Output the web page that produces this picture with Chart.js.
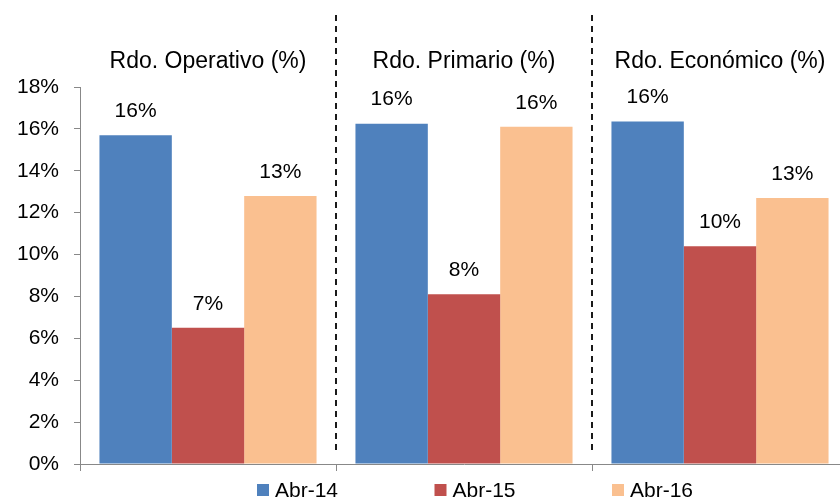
<!DOCTYPE html>
<html>
<head>
<meta charset="utf-8">
<script src="https://cdn.jsdelivr.net/npm/chart.js@4"></script>
<style>
html, body { margin: 0; padding: 0; overflow: hidden; background: #fff; }
#wrap { position: relative; width: 848px; height: 499px; }
</style>
</head>
<body>
<div id="wrap"><canvas id="resultados"></canvas></div>
<script>
const grupos = ['Rdo. Operativo (%)', 'Rdo. Primario (%)', 'Rdo. Económico (%)'];
const periodos = ['Abr-14', 'Abr-15', 'Abr-16'];
const abr14 = [15.7, 16.25, 16.35];
const abr15 = [6.5, 8.1, 10.4];
const abr16 = [12.8, 16.1, 12.7];
const colores = ['#4F81BD', '#C0504D', '#FAC090'];
const marcasY = [0, 2, 4, 6, 8, 10, 12, 14, 16, 18];

const fuente = '"Liberation Sans", Arial, sans-serif';
Chart.defaults.font.family = fuente;
Chart.defaults.color = '#000';

// lineas punteadas entre grupos
const separadores = {
    id: 'separadores',
    beforeDatasetsDraw(chart) {
        const x = chart.scales.x;
        const ctx = chart.ctx;
        ctx.save();
        ctx.strokeStyle = '#1a1a1a';
        ctx.lineWidth = 2;
        ctx.setLineDash([6, 5]);
        for (let i = 0; i < grupos.length - 1; i++) {
            const px = (x.getPixelForValue(i) + x.getPixelForValue(i + 1)) / 2;
            ctx.beginPath();
            ctx.moveTo(px, chart.chartArea.top - 72);
            ctx.lineTo(px, chart.chartArea.bottom - 10);
            ctx.stroke();
        }
        ctx.restore();
    }
};

// etiquetas sobre las barras
const etiquetas = {
    id: 'etiquetas',
    afterDatasetsDraw(chart) {
        const ctx = chart.ctx;
        ctx.save();
        ctx.font = '21px ' + fuente;
        ctx.fillStyle = '#000';
        ctx.textAlign = 'center';
        ctx.textBaseline = 'middle';
        chart.data.datasets.forEach((ds, i) => {
            chart.getDatasetMeta(i).data.forEach((bar, j) => {
                ctx.fillText(Math.round(ds.data[j]) + '%', bar.x, bar.y - 24);
            });
        });
        ctx.restore();
    }
};

// leyenda abajo
const leyenda = {
    id: 'leyenda',
    afterDraw(chart) {
        const ctx = chart.ctx;
        ctx.save();
        ctx.font = '21px ' + fuente;
        ctx.textAlign = 'left';
        ctx.textBaseline = 'middle';
        periodos.forEach((p, i) => {
            const x = 257 + i * 177.5;
            ctx.fillStyle = colores[i];
            ctx.fillRect(x, 484, 12, 12);
            ctx.fillStyle = '#000';
            ctx.fillText(p, x + 18, 491);
        });
        ctx.restore();
    }
};

new Chart(document.getElementById('resultados'), {
    type: 'bar',
    data: {
        labels: grupos,
        datasets: [
            { label: periodos[0], data: abr14, backgroundColor: colores[0] },
            { label: periodos[1], data: abr15, backgroundColor: colores[1] },
            { label: periodos[2], data: abr16, backgroundColor: colores[2] }
        ]
    },
    options: {
        responsive: true,
        maintainAspectRatio: false,
        animation: false,
        layout: {
            padding: { bottom: 28 }
        },
        datasets: {
            bar: { categoryPercentage: 0.848, barPercentage: 1 }
        },
        scales: {
            x: {
                grid: { offset: true, drawOnChartArea: false, tickLength: 7, color: '#888' },
                border: { color: '#888' },
                ticks: { display: false }
            },
            titulos: {
                type: 'category',
                labels: grupos,
                position: 'top',
                offset: true,
                grid: { display: false },
                border: { display: false },
                ticks: { padding: 4, font: { size: 23 } },
                afterFit(s) { s.height = 87; }
            },
            y: {
                min: 0,
                max: 18,
                afterBuildTicks(s) { s.ticks = marcasY.map(v => ({ value: v })); },
                ticks: { padding: 15, font: { size: 21 }, callback: v => v + '%' },
                grid: { drawOnChartArea: false, tickLength: 6, color: '#888' },
                border: { color: '#888' },
                afterFit(s) { s.width = 80; }
            }
        },
        plugins: {
            legend: { display: false },
            tooltip: { enabled: false }
        }
    },
    plugins: [separadores, etiquetas, leyenda]
});
</script>
</body>
</html>
